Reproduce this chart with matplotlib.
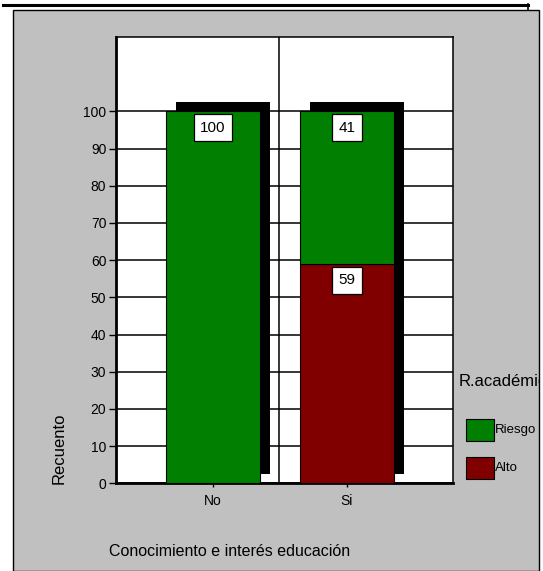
import matplotlib
matplotlib.use("Agg")
import matplotlib.pyplot as plt
from matplotlib.patches import Rectangle
from matplotlib.lines import Line2D

plt.rcParams['font.family'] = ['Liberation Sans', 'DejaVu Sans']

# data
categories = ["No", "Si"]
series_names = ["Riesgo", "Alto"]
riesgo = [100, 41]
alto = [0, 59]
series_colors = ["#007f00", "#800000"]
y_ticks = list(range(0, 101, 10))

W, H = 543, 571
fig = plt.figure(figsize=(W / 100, H / 100), dpi=100)
fig.patch.set_facecolor("white")

def fx(px):
    return px / W

def fy(py):
    return 1 - py / H

# grey panel and the thin frame at the top
panel = Rectangle((fx(13), 0), fx(539) - fx(13), fy(9.5), transform=fig.transFigure,
                  facecolor="#c0c0c0", edgecolor="black", lw=1, zorder=-5)
fig.add_artist(panel)
fig.add_artist(Line2D([fx(3), fx(528)], [fy(5), fy(5)], transform=fig.transFigure,
                      color="black", lw=2.2, zorder=-4))
fig.add_artist(Line2D([fx(528), fx(528)], [fy(4), fy(9.5)], transform=fig.transFigure,
                      color="black", lw=1.2, zorder=-4))

ax = fig.add_axes([fx(116), fy(483.3), fx(453) - fx(116), fy(37) - fy(483.3)])
ax.set_zorder(1)
ax.set_facecolor("white")
ax.set_xlim(-0.72, 1.79)
ax.set_ylim(0, 120)

x = list(range(len(categories)))
width = 0.70
totals = [a + r for a, r in zip(alto, riesgo)]

# grid lines
for t in y_ticks:
    ax.axhline(t, color="black", lw=1.1, zorder=1)
ax.axvline(0.495, color="black", lw=1.1, zorder=1)

# drop shadow behind each stacked bar
ax.bar([i + 0.075 for i in x], totals, width=width, bottom=2.6,
       color="black", lw=0, zorder=2)

ax.bar(x, alto, width=width, color=series_colors[1], edgecolor="black", lw=0.8, zorder=3)
ax.bar(x, riesgo, width=width, bottom=alto, color=series_colors[0],
       edgecolor="black", lw=0.8, zorder=3)

# value labels in white boxes just below the top of each segment
for i in x:
    for val, top in ((riesgo[i], totals[i]), (alto[i], alto[i])):
        if val > 0:
            ax.text(i, top - 4.4, str(val), ha="center", va="center", fontsize=11,
                    zorder=5,
                    bbox=dict(boxstyle="square,pad=0.42", fc="white", ec="black", lw=0.9))

ax.set_yticks(y_ticks)
ax.set_xticks(x)
ax.set_xticklabels(categories)
ax.tick_params(axis="y", length=5, width=1, pad=2, labelsize=10)
ax.tick_params(axis="x", length=3, width=1, pad=5, labelsize=10)

for side in ("left", "bottom"):
    ax.spines[side].set_linewidth(2)
for side in ("top", "right"):
    ax.spines[side].set_linewidth(1.1)

fig.text(fx(109), fy(551), "Conocimiento e interés educación", fontsize=11.5,
         ha="left", va="center")
fig.text(fx(59), fy(484), "Recuento", fontsize=12, rotation=90,
         ha="center", va="bottom")

# legend, clipped by the grey panel like in the original
title = fig.text(fx(459), fy(381), "R.académico", fontsize=12, ha="left", va="center")
title.set_clip_path(panel)
for name, color, yc in zip(series_names, series_colors, [430, 468]):
    fig.add_artist(Rectangle((fx(466), fy(yc + 11)), fx(494) - fx(466), fy(yc - 11) - fy(yc + 11),
                             transform=fig.transFigure, facecolor=color,
                             edgecolor="black", lw=0.8))
    fig.text(fx(495), fy(yc), name, fontsize=9.5, ha="left", va="center")

fig.savefig("out.png", dpi=100)
